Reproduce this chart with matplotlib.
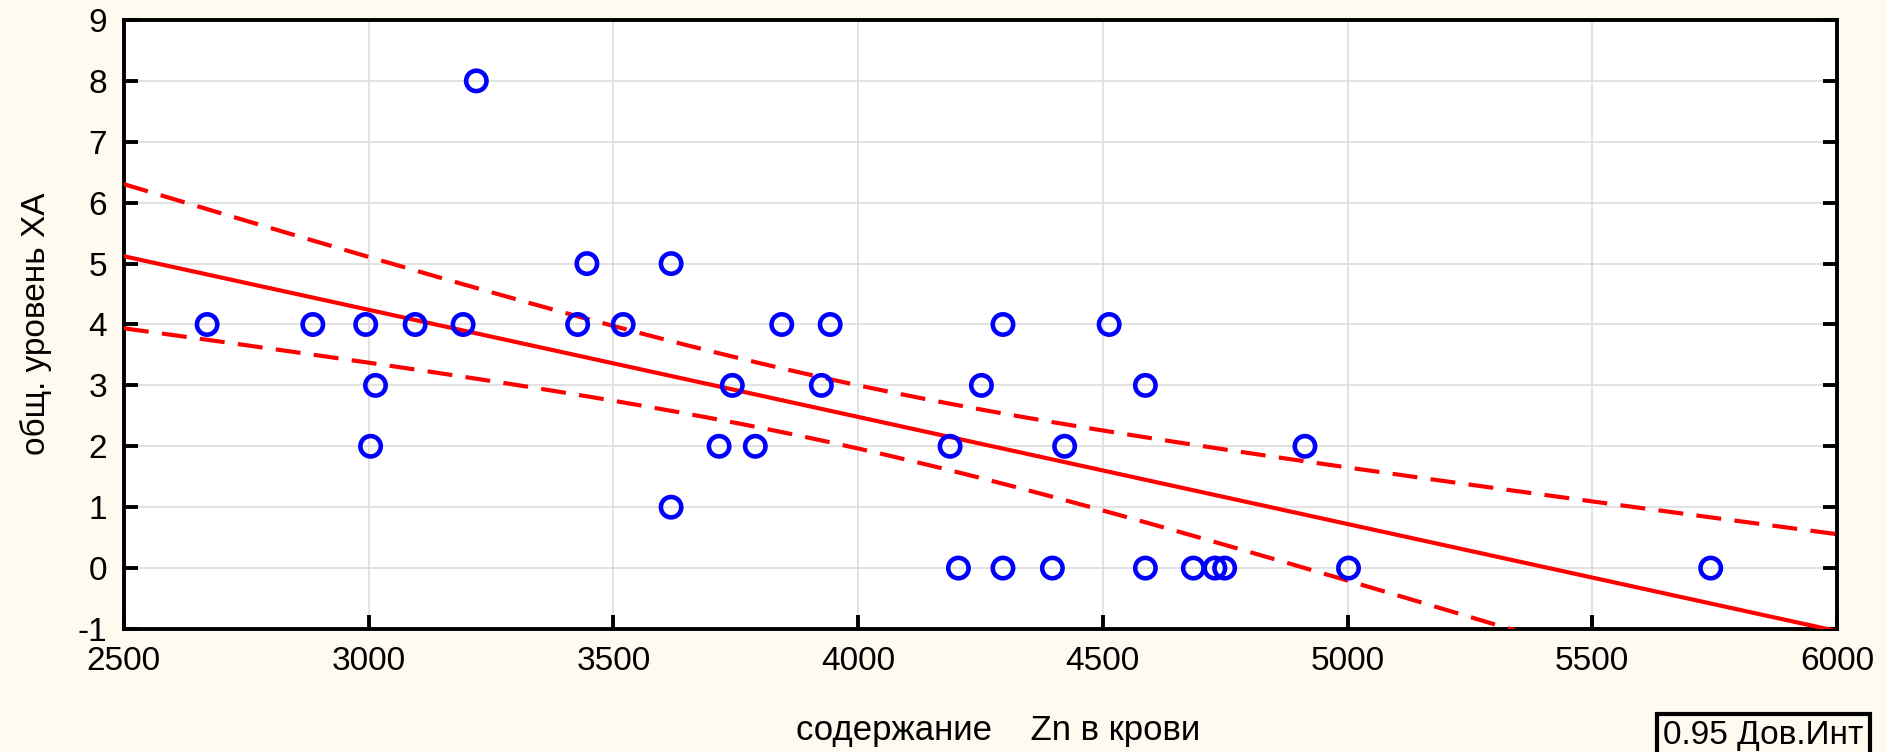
import numpy as np
import matplotlib
matplotlib.use("Agg")
import matplotlib.pyplot as plt

plt.rcParams['font.family'] = ['Liberation Sans', 'DejaVu Sans']

zn = [2670, 2886, 2994, 3014, 3004, 3095, 3193, 3220, 3427, 3446, 3520, 3618, 3618,
      3716, 3743, 3790, 3844, 3925, 3943, 4188, 4205, 4252, 4296, 4296, 4397, 4422,
      4513, 4587, 4587, 4685, 4729, 4749, 4913, 5002, 5742]
xa = [4, 4, 4, 3, 2, 4, 4, 8, 4, 5, 4, 5, 1,
      2, 3, 2, 4, 3, 4, 2, 0, 3, 4, 0, 0, 2,
      4, 3, 0, 0, 0, 0, 2, 0, 0]

xticks = [2500, 3000, 3500, 4000, 4500, 5000, 5500, 6000]
yticks = [-1, 0, 1, 2, 3, 4, 5, 6, 7, 8, 9]

x = np.array(zn, float)
y = np.array(xa, float)
n = len(x)
b, a = np.polyfit(x, y, 1)
xs = np.linspace(2500, 6000, 300)
yhat = a + b * xs
resid = y - (a + b * x)
s = np.sqrt(np.sum(resid ** 2) / (n - 2))
tval = 2.0345
se = s * np.sqrt(1 / n + (xs - x.mean()) ** 2 / np.sum((x - x.mean()) ** 2))

bg = '#FFFAEF'
fig = plt.figure(figsize=(18.86, 7.52), dpi=100, facecolor=bg)
ax = fig.add_axes([0.0657, 0.1636, 0.9083, 0.8098])
ax.set_facecolor('white')

ax.plot(xs, yhat, color='#FF0000', lw=3.0, zorder=3)
ax.plot(xs, yhat + tval * se, color='#FF0000', lw=3.0, ls=(0, (6, 3.2)), zorder=3)
ax.plot(xs, yhat - tval * se, color='#FF0000', lw=3.0, ls=(0, (6, 3.2)), zorder=3)
ax.scatter(x, y, s=215, facecolors='none', edgecolors='#0000FF', linewidths=3.3, zorder=4, clip_on=False)

ax.set_xlim(2500, 6000)
ax.set_ylim(-1, 9)
ax.set_xticks(xticks)
ax.set_yticks(yticks)
ax.set_xticklabels([str(t) for t in xticks])
ax.set_yticklabels([str(t) for t in yticks])
ax.grid(True, color='#DDDDDD', lw=1.2)
ax.set_axisbelow(True)
ax.tick_params(direction='in', length=10, width=2.8, labelsize=24, pad=12,
               top=False, right=True, bottom=True, left=True)
for sp in ax.spines.values():
    sp.set_linewidth(2.8)
    sp.set_color('black')

fig.text(0.529, 0.028, 'содержание    Zn в крови', fontsize=25, ha='center', va='center')
fig.text(0.019, 0.57, 'общ. уровень ХА', fontsize=24, ha='center', va='center', rotation=90)
fig.text(0.882, 0.042, '0.95 Дов.Инт', fontsize=24, ha='left', va='top',
         bbox=dict(boxstyle='square,pad=0.2', facecolor=bg, edgecolor='black', lw=3.0))

fig.savefig('out.png', dpi=100, facecolor=bg)
